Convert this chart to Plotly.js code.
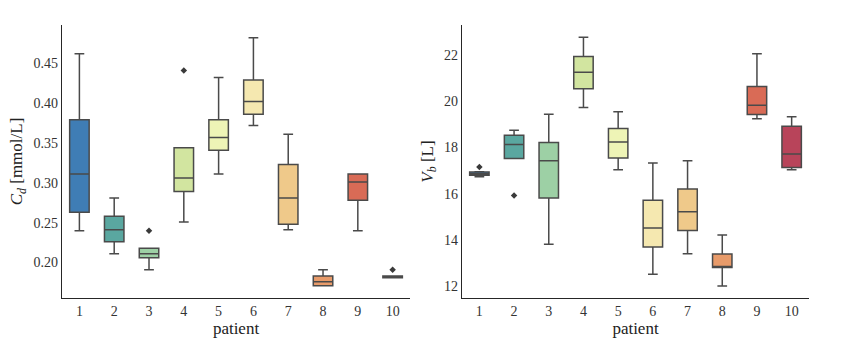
<!DOCTYPE html>
<html>
<head>
<meta charset="utf-8">
<script src="https://cdn.plot.ly/plotly-3.0.1.min.js"></script>
<style>
  html, body { margin: 0; padding: 0; background: white; }
  #plot { width: 845px; height: 343px; }
</style>
</head>
<body>
<div id="plot"></div>
<script>
// -------------------------------
// DATA (box statistics)
// -------------------------------
const patients = ["1", "2", "3", "4", "5", "6", "7", "8", "9", "10"];
const boxColors = ["#3f7db5", "#5aa7a0", "#9dd0a5", "#d2e5a0", "#eef4b6",
                   "#f5e8b0", "#efc98a", "#e89b6a", "#d96b56", "#b8445a"];

// C_d [mmol/L]
const cdLow    = [0.240, 0.211, 0.191, 0.251, 0.311, 0.372, 0.241, 0.171, 0.240, 0.181];
const cdQ1     = [0.263, 0.226, 0.206, 0.289, 0.341, 0.386, 0.248, 0.171, 0.278, 0.181];
const cdMedian = [0.311, 0.241, 0.211, 0.306, 0.357, 0.402, 0.281, 0.176, 0.301, 0.182];
const cdQ3     = [0.379, 0.258, 0.218, 0.344, 0.379, 0.429, 0.323, 0.183, 0.311, 0.183];
const cdHigh   = [0.462, 0.281, 0.218, 0.344, 0.432, 0.482, 0.361, 0.191, 0.311, 0.183];
const cdOutX   = ["3", "4", "10"];
const cdOutY   = [0.240, 0.441, 0.191];

// V_b [L]
const vbLow    = [16.73, 17.52, 13.81, 19.73, 17.03, 12.51, 13.40, 12.00, 19.24, 17.03];
const vbQ1     = [16.80, 17.52, 15.81, 20.54, 17.54, 13.69, 14.40, 12.80, 19.43, 17.13];
const vbMedian = [16.86, 18.13, 17.42, 21.25, 18.23, 14.51, 15.21, 12.80, 19.83, 17.72];
const vbQ3     = [16.93, 18.53, 18.21, 21.94, 18.82, 15.71, 16.20, 13.39, 20.64, 18.92];
const vbHigh   = [16.95, 18.74, 19.44, 22.77, 19.54, 17.33, 17.42, 14.21, 22.06, 19.33];
const vbOutX   = ["1", "2"];
const vbOutY   = [17.15, 15.92];

// -------------------------------
// STYLE
// -------------------------------
const lineGray = "#4a4a4a";
const axisColor = "#262626";
const fontFamily = "Liberation Serif, DejaVu Serif, serif";

function boxTraces(low, q1, med, q3, high, xa, ya) {
  return patients.map((p, i) => ({
    type: "box",
    x: [p],
    lowerfence: [low[i]],
    q1: [q1[i]],
    median: [med[i]],
    q3: [q3[i]],
    upperfence: [high[i]],
    fillcolor: boxColors[i],
    line: { color: lineGray, width: 1.5 },
    whiskerwidth: 0.5,
    xaxis: xa,
    yaxis: ya,
    showlegend: false,
    hoverinfo: "skip"
  }));
}

function outlierTrace(xs, ys, xa, ya) {
  return {
    type: "scatter",
    mode: "markers",
    x: xs,
    y: ys,
    xaxis: xa,
    yaxis: ya,
    marker: { symbol: "diamond", size: 5, color: "#3a3a3a" },
    showlegend: false,
    hoverinfo: "skip"
  };
}

const traces = []
  .concat(boxTraces(cdLow, cdQ1, cdMedian, cdQ3, cdHigh, "x", "y"))
  .concat([outlierTrace(cdOutX, cdOutY, "x", "y")])
  .concat(boxTraces(vbLow, vbQ1, vbMedian, vbQ3, vbHigh, "x2", "y2"))
  .concat([outlierTrace(vbOutX, vbOutY, "x2", "y2")]);

const xCommon = {
  type: "category",
  categoryorder: "array",
  categoryarray: patients,
  range: [-0.5, 9.5],
  showline: true,
  linecolor: axisColor,
  linewidth: 1.25,
  showgrid: false,
  zeroline: false,
  ticks: "",
  tickfont: { family: fontFamily, size: 14, color: "#333" },
  title: { text: "patient", font: { family: fontFamily, size: 17, color: "#222" }, standoff: 4 }
};

const yCommon = {
  showline: true,
  linecolor: axisColor,
  linewidth: 1.25,
  showgrid: false,
  zeroline: false,
  ticks: "",
  tickfont: { family: fontFamily, size: 14, color: "#333" }
};

const layout = {
  width: 845,
  height: 343,
  margin: { l: 62, r: 36, t: 25, b: 45 },
  paper_bgcolor: "white",
  plot_bgcolor: "white",
  boxgap: 0.2,
  xaxis: Object.assign({}, xCommon, { domain: [0, 0.4659], anchor: "y" }),
  xaxis2: Object.assign({}, xCommon, { domain: [0.5355, 1], anchor: "y2" }),
  yaxis: Object.assign({}, yCommon, {
    anchor: "x",
    range: [0.1555, 0.498],
    tickvals: [0.20, 0.25, 0.30, 0.35, 0.40, 0.45],
    ticktext: ["0.20", "0.25", "0.30", "0.35", "0.40", "0.45"],
    title: { text: "<i>C<sub>d</sub></i> [mmol/L]", font: { family: fontFamily, size: 17, color: "#222" }, standoff: 6 }
  }),
  yaxis2: Object.assign({}, yCommon, {
    anchor: "x2",
    range: [11.48, 23.3],
    tickvals: [12, 14, 16, 18, 20, 22],
    title: { text: "<i>V<sub>b</sub></i> [L]", font: { family: fontFamily, size: 17, color: "#222" }, standoff: 6 }
  })
};

Plotly.newPlot("plot", traces, layout, { displayModeBar: false, staticPlot: true });
</script>
</body>
</html>
